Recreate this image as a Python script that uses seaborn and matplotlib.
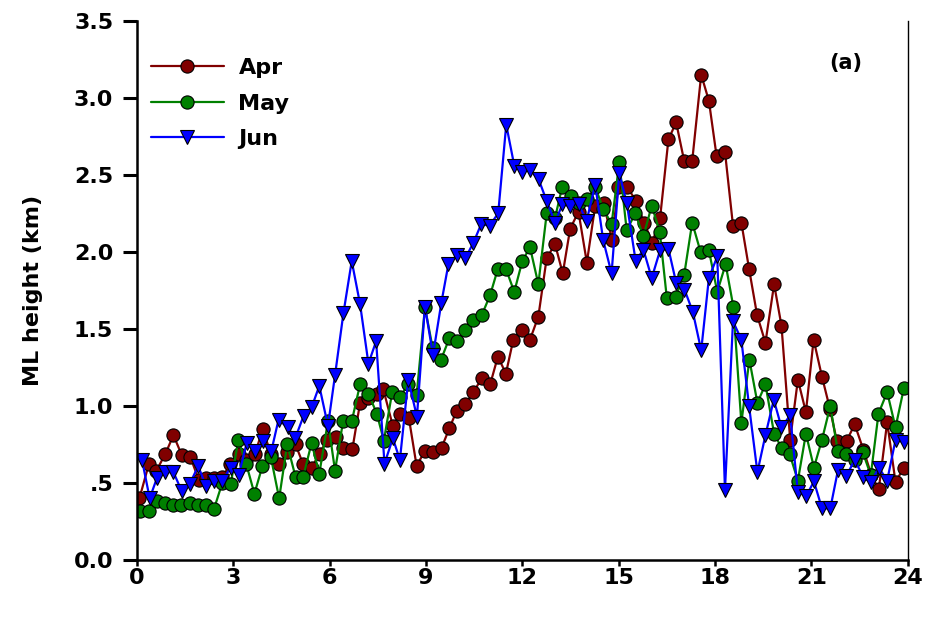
import numpy as np
import pandas as pd
import matplotlib
matplotlib.use("Agg")
import matplotlib.pyplot as plt
import seaborn as sns

months = ["Apr", "May", "Jun"]
colors = ["#800000", "#008000", "#0000FF"]
x_ticks = [0, 3, 6, 9, 12, 15, 18, 21, 24]
y_ticks = [0.0, 0.5, 1.0, 1.5, 2.0, 2.5, 3.0, 3.5]
y_tick_labels = ["0.0", ".5", "1.0", "1.5", "2.0", "2.5", "3.0", "3.5"]

apr_hour = [0.08, 0.37, 0.61, 0.89, 1.14, 1.40, 1.66, 1.93, 2.14, 2.39, 2.66, 2.91, 3.17, 3.40,
            3.68, 3.92, 4.17, 4.43, 4.69, 4.94, 5.18, 5.44, 5.69, 5.92, 6.20, 6.43, 6.71, 6.95,
            7.21, 7.47, 7.67, 7.97, 8.19, 8.47, 8.71, 8.97, 9.23, 9.49, 9.73, 9.96, 10.22, 10.48,
            10.74, 11.00, 11.24, 11.49, 11.72, 11.98, 12.24, 12.50, 12.76, 13.02, 13.26, 13.49,
            13.75, 14.01, 14.27, 14.53, 14.79, 14.99, 15.27, 15.54, 15.79, 16.05, 16.29, 16.55,
            16.79, 17.04, 17.29, 17.57, 17.81, 18.05, 18.31, 18.56, 18.82, 19.06, 19.31, 19.57,
            19.84, 20.07, 20.34, 20.58, 20.83, 21.07, 21.33, 21.58, 21.79, 22.10, 22.35, 22.62,
            22.87, 23.10, 23.36, 23.62, 23.88]
apr_height = [0.40, 0.62, 0.58, 0.69, 0.81, 0.68, 0.67, 0.52, 0.53, 0.53, 0.54, 0.62, 0.69, 0.65,
              0.69, 0.85, 0.69, 0.62, 0.70, 0.75, 0.62, 0.60, 0.69, 0.78, 0.80, 0.73, 0.72, 1.02,
              1.05, 1.08, 1.11, 0.87, 0.95, 0.92, 0.61, 0.71, 0.70, 0.73, 0.855, 0.97, 1.01, 1.09,
              1.18, 1.14, 1.32, 1.21, 1.43, 1.49, 1.43, 1.58, 1.96, 2.05, 1.86, 2.15,
              2.26, 1.93, 2.30, 2.32, 2.08, 2.42, 2.42, 2.33, 2.19, 2.06, 2.22, 2.73,
              2.84, 2.59, 2.59, 3.15, 2.98, 2.62, 2.65, 2.17, 2.19, 1.89, 1.59, 1.41,
              1.79, 1.52, 0.78, 1.17, 0.96, 1.43, 1.19, 0.98, 0.775, 0.775, 0.88, 0.715,
              0.55, 0.46, 0.895, 0.505, 0.60]

may_hour = [0.10, 0.39, 0.62, 0.88, 1.13, 1.38, 1.64, 1.90, 2.15, 2.40, 2.66, 2.92, 3.16, 3.41,
            3.66, 3.91, 4.17, 4.43, 4.68, 4.94, 5.18, 5.44, 5.68, 5.95, 6.17, 6.42, 6.69, 6.95,
            7.21, 7.47, 7.69, 7.95, 8.19, 8.45, 8.71, 8.97, 9.21, 9.47, 9.73, 9.96, 10.22, 10.48,
            10.74, 11.00, 11.24, 11.49, 11.75, 12.00, 12.24, 12.50, 12.76, 13.02, 13.24, 13.52,
            13.77, 14.02, 14.27, 14.52, 14.78, 15.02, 15.25, 15.52, 15.77, 16.03, 16.28, 16.50,
            16.78, 17.04, 17.29, 17.55, 17.81, 18.07, 18.33, 18.57, 18.82, 19.07, 19.32, 19.57,
            19.84, 20.08, 20.32, 20.58, 20.83, 21.08, 21.33, 21.59, 21.82, 22.09, 22.35, 22.60,
            22.85, 23.09, 23.36, 23.62, 23.88]
may_height = [0.32, 0.32, 0.38, 0.37, 0.36, 0.36, 0.37, 0.36, 0.36, 0.33, 0.50, 0.49, 0.78, 0.62,
              0.43, 0.61, 0.67, 0.40, 0.75, 0.54, 0.54, 0.76, 0.56, 0.90, 0.58, 0.90, 0.90, 1.14,
              1.08, 0.95, 0.775, 1.09, 1.06, 1.14, 1.07, 1.64, 1.375, 1.30, 1.44, 1.42, 1.49, 1.56,
              1.59, 1.72, 1.89, 1.89, 1.74, 1.94, 2.03, 1.79, 2.25, 2.22, 2.42, 2.36,
              2.32, 2.34, 2.42, 2.28, 2.18, 2.58, 2.14, 2.25, 2.10, 2.30, 2.13, 1.70,
              1.71, 1.85, 2.19, 2.00, 2.01, 1.74, 1.92, 1.645, 0.89, 1.30, 1.02, 1.14,
              0.82, 0.725, 0.69, 0.515, 0.82, 0.60, 0.78, 1.00, 0.71, 0.69, 0.65, 0.70,
              0.55, 0.95, 1.09, 0.86, 1.115]

jun_hour = [0.16, 0.40, 0.63, 0.88, 1.14, 1.39, 1.65, 1.91, 2.15, 2.40, 2.66, 2.92, 3.17, 3.42,
            3.68, 3.92, 4.19, 4.41, 4.70, 4.93, 5.19, 5.44, 5.68, 5.95, 6.17, 6.43, 6.69, 6.95,
            7.21, 7.45, 7.71, 7.97, 8.19, 8.45, 8.72, 8.97, 9.22, 9.48, 9.70, 9.97, 10.23, 10.48,
            10.72, 10.98, 11.25, 11.50, 11.75, 11.99, 12.25, 12.51, 12.76, 13.02, 13.25, 13.49,
            13.76, 14.00, 14.27, 14.52, 14.78, 15.02, 15.25, 15.53, 15.77, 16.03, 16.29, 16.55,
            16.79, 17.05, 17.31, 17.57, 17.81, 18.07, 18.31, 18.56, 18.82, 19.06, 19.32, 19.57,
            19.83, 20.07, 20.34, 20.58, 20.84, 21.08, 21.33, 21.59, 21.83, 22.09, 22.35, 22.61,
            22.86, 23.10, 23.36, 23.62, 23.88]
jun_height = [0.65, 0.40, 0.535, 0.57, 0.57, 0.45, 0.495, 0.61, 0.48, 0.515, 0.515, 0.60, 0.55, 0.76,
              0.71, 0.77, 0.71, 0.91, 0.86, 0.79, 0.935, 0.99, 1.13, 0.87, 1.20, 1.60, 1.94, 1.66,
              1.275, 1.42, 0.625, 0.79, 0.65, 1.17, 0.93, 1.645, 1.33, 1.67, 1.92, 1.98, 1.96, 2.06,
              2.18, 2.17, 2.25, 2.825, 2.56, 2.52, 2.53, 2.47, 2.33, 2.19, 2.31, 2.295,
              2.31, 2.20, 2.435, 2.075, 1.86, 2.51, 2.32, 1.94, 2.015, 1.83, 2.01, 2.02,
              1.80, 1.755, 1.61, 1.36, 1.83, 1.97, 0.455, 1.55, 1.43, 1.00, 0.57, 0.81,
              1.04, 0.86, 0.94, 0.44, 0.415, 0.51, 0.335, 0.335, 0.585, 0.545, 0.65, 0.54,
              0.505, 0.60, 0.515, 0.78, 0.765]

frames = []
for m, hh, vv in zip(months, [apr_hour, may_hour, jun_hour], [apr_height, may_height, jun_height]):
    frames.append(pd.DataFrame({"hour": hh, "height": vv, "month": m}))
df = pd.concat(frames, ignore_index=True)

sns.set_theme(style="white")
plt.rcParams["font.family"] = ["DejaVu Sans"]
plt.rcParams["font.weight"] = "bold"
for key in ["text.color", "axes.labelcolor", "xtick.color", "ytick.color", "axes.edgecolor"]:
    plt.rcParams[key] = "black"

fig = plt.figure(figsize=(9.31, 6.17), dpi=100)
ax = fig.add_axes([0.147, 0.0924, 0.828, 0.874])

sns.lineplot(data=df, x="hour", y="height", hue="month", style="month",
             hue_order=months, style_order=months,
             palette=dict(zip(months, colors)),
             markers={"Apr": "o", "May": "o", "Jun": "v"}, dashes=False,
             sort=False, estimator=None, legend=False, ax=ax,
             linewidth=1.6, markersize=9.5, markeredgecolor="black",
             markeredgewidth=0.8)

ax.set_xlim(0, 24)
ax.set_ylim(0, 3.5)
ax.set_xticks(x_ticks)
ax.set_xticklabels([str(t) for t in x_ticks], fontsize=16, fontweight="bold")
ax.set_yticks(y_ticks)
ax.set_yticklabels(y_tick_labels, fontsize=16, fontweight="bold")
ax.set_xlabel("")
ax.set_ylabel("ML height (km)", fontsize=16, fontweight="bold", labelpad=22)

for side in ["left", "bottom"]:
    ax.spines[side].set_linewidth(1.8)
    ax.spines[side].set_color("black")
ax.spines["top"].set_visible(False)
ax.spines["right"].set_linewidth(1.0)
ax.spines["right"].set_color("black")
ax.tick_params(axis="y", which="major", direction="out", length=10, width=2.2,
               left=True, pad=7)
ax.tick_params(axis="x", which="major", direction="out", length=4, width=1.8,
               bottom=True, pad=2)

handles = ax.lines[:3]
leg = ax.legend(handles=handles, labels=months, loc="upper left",
                bbox_to_anchor=(-0.008, 0.968), frameon=False, handlelength=3.3,
                handletextpad=0.65, labelspacing=0.7,
                prop={"size": 16, "weight": "bold"})

ax.text(0.92, 0.922, "(a)", transform=ax.transAxes, fontsize=15, fontweight="bold",
        ha="center", va="center")

fig.savefig("out.png", dpi=100)
